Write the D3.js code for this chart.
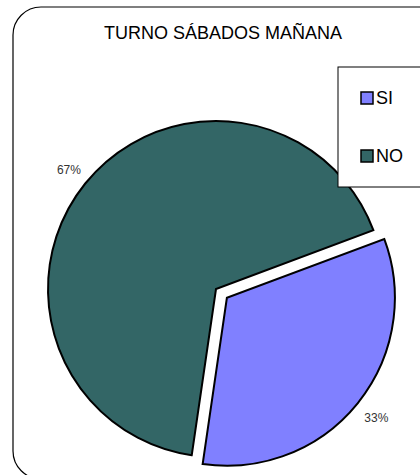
<!DOCTYPE html>
<html>
<head>
<meta charset="utf-8">
<script src="https://cdn.jsdelivr.net/npm/d3@7"></script>
<style>
  body { margin: 0; background: #fff; }
  svg { font-family: "Liberation Sans", Arial, sans-serif; }
</style>
</head>
<body>
<div id="chart"></div>
<script>
// data
const title = "TURNO SÁBADOS MAÑANA";
const categories = ["SI", "NO"];
const values = [33, 67];
const colors = ["#8080ff", "#336666"];

const width = 420, height = 475;

const svg = d3.select("#chart")
  .append("svg")
    .attr("width", width)
    .attr("height", height);

// outer chart frame (right side runs off the picture)
svg.append("rect")
  .attr("x", 13).attr("y", 7)
  .attr("width", 440).attr("height", 472)
  .attr("rx", 28).attr("ry", 28)
  .attr("fill", "#fff")
  .attr("stroke", "#000")
  .attr("stroke-width", 1.2);

svg.append("text")
  .attr("x", 223).attr("y", 39)
  .attr("text-anchor", "middle")
  .style("font-size", "18px")
  .text(title);

// pie
const cx = 216, cy = 289, r = 168;
const startDeg = 69.5;
const pie = d3.pie().sort(null)
  .startAngle(startDeg * Math.PI / 180)
  .endAngle((startDeg + 360) * Math.PI / 180);
const arcs = pie(values);
const arc = d3.arc().innerRadius(0).outerRadius(r);
const explode = [14, 0];

const g = svg.append("g").attr("transform", `translate(${cx},${cy})`);

g.selectAll("path")
  .data(arcs)
  .join("path")
    .attr("transform", (d, i) => {
      const a = (d.startAngle + d.endAngle) / 2;
      return `translate(${Math.sin(a) * explode[i]},${-Math.cos(a) * explode[i]})`;
    })
    .attr("d", arc)
    .attr("fill", (d, i) => colors[i])
    .attr("stroke", "#000")
    .attr("stroke-width", 2)
    .attr("stroke-linejoin", "miter");

// percent labels outside the slices
const total = d3.sum(values);
const labelR = [r + 38, r + 21];
g.selectAll("text.pct")
  .data(arcs)
  .join("text")
    .attr("class", "pct")
    .attr("x", (d, i) => Math.sin((d.startAngle + d.endAngle) / 2) * labelR[i])
    .attr("y", (d, i) => -Math.cos((d.startAngle + d.endAngle) / 2) * labelR[i])
    .attr("text-anchor", "middle")
    .attr("dominant-baseline", "central")
    .style("font-size", "12px")
    .style("fill", "#333")
    .text(d => Math.round(d.value / total * 100) + "%");

// legend
const legend = svg.append("g");
legend.append("rect")
  .attr("x", 338).attr("y", 67)
  .attr("width", 100).attr("height", 120)
  .attr("fill", "#fff")
  .attr("stroke", "#000")
  .attr("stroke-width", 1);

const ly = d3.scalePoint().domain(categories).range([98, 156]);
legend.selectAll("rect.key")
  .data(categories)
  .join("rect")
    .attr("class", "key")
    .attr("x", 361).attr("y", d => ly(d) - 6)
    .attr("width", 12).attr("height", 12)
    .attr("fill", (d, i) => colors[i])
    .attr("stroke", "#000")
    .attr("stroke-width", 1.5);
legend.selectAll("text.key")
  .data(categories)
  .join("text")
    .attr("class", "key")
    .attr("x", 376).attr("y", d => ly(d))
    .attr("dominant-baseline", "central")
    .style("font-size", "18px")
    .text(d => d);
</script>
</body>
</html>
